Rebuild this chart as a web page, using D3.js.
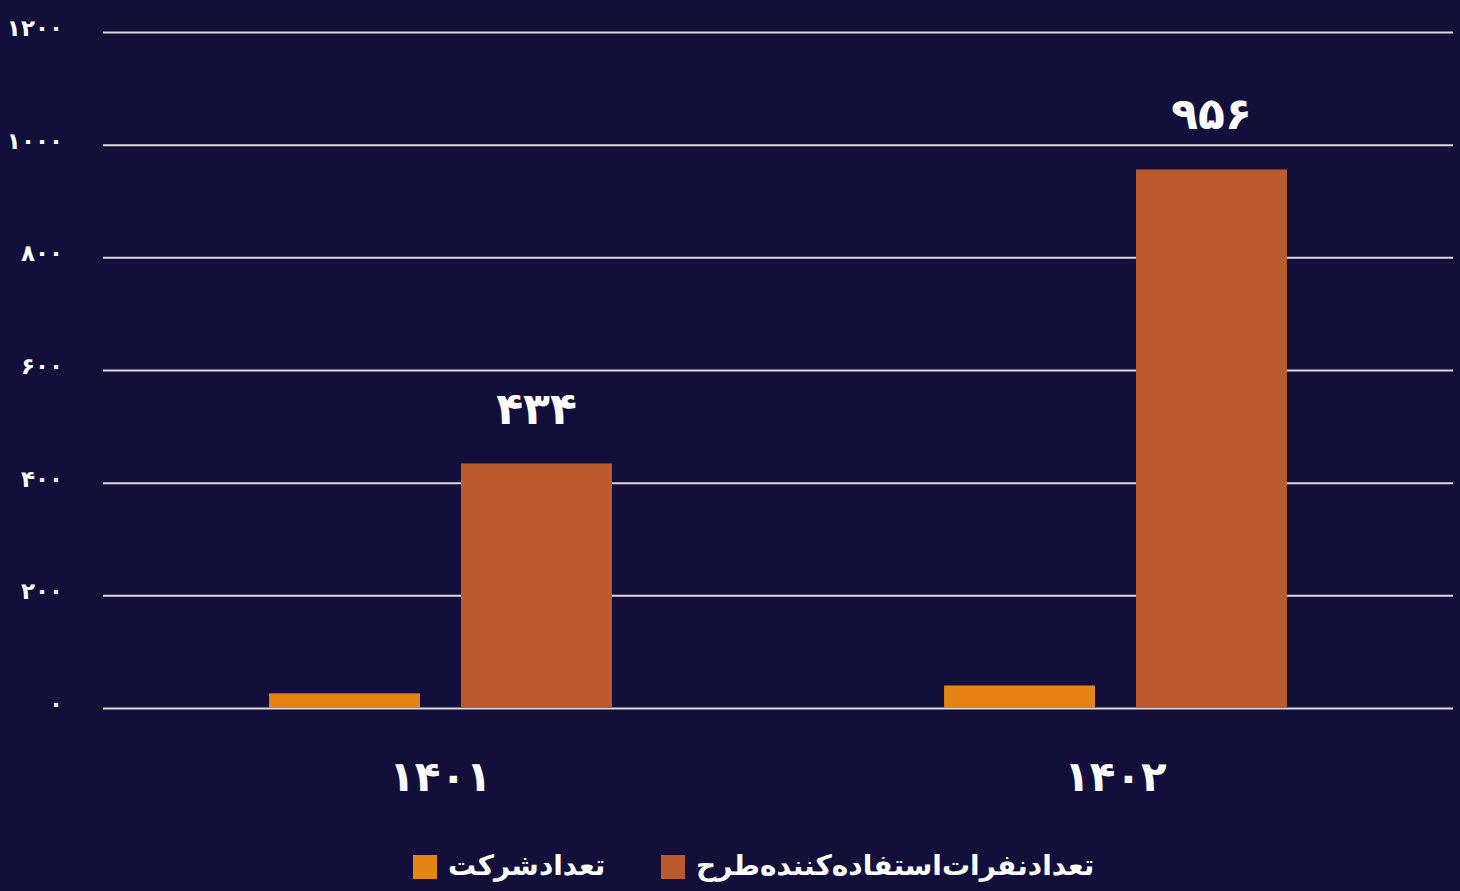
<!DOCTYPE html>
<html>
<head>
<meta charset="utf-8">
<script src="https://cdn.jsdelivr.net/npm/d3@7"></script>
<style>
  html, body { margin: 0; padding: 0; background: #12103a; }
  svg { display: block; }
  text { font-family: "DejaVu Sans", "Noto Sans", sans-serif; font-weight: bold; fill: #fff; }
</style>
</head>
<body>
<div id="chart"></div>
<script>
// data
const years = ['1401', '1402'];
const seriesNames = ['تعدادشرکت', 'تعدادنفرات‌استفاده‌کننده‌طرح'];
const companies = [26, 40];
const users = [434, 956];
const yTicks = [0, 200, 400, 600, 800, 1000, 1200];
const colors = ['#e58314', '#bd5a2d'];

// turn latin digits into persian ones
function fa(v) {
  return String(v).replace(/\d/g, d => '۰۱۲۳۴۵۶۷۸۹'[+d]);
}

let width = 1460, height = 891;
let plotLeft = 103, plotRight = 1453, plotTop = 32, plotBottom = 708;

let svg = d3.select('#chart').append('svg')
  .attr('width', width)
  .attr('height', height);

svg.append('rect')
  .attr('width', width).attr('height', height)
  .attr('fill', '#12103a');

let y = d3.scaleLinear().domain([0, 1200]).range([plotBottom, plotTop]);
let x0 = d3.scaleBand().domain(years).range([plotLeft, plotRight])
  .paddingInner(0.492).paddingOuter(0.246);
let x1 = d3.scaleBand().domain([0, 1]).range([0, x0.bandwidth()])
  .paddingInner(0.2135).paddingOuter(0);

// gridlines + y labels
let yAxis = svg.append('g')
  .attr('transform', 'translate(' + plotLeft + ',0)')
  .call(d3.axisLeft(y).tickValues(yTicks).tickSize(-(plotRight - plotLeft)).tickPadding(40).tickFormat(fa));
yAxis.select('.domain').remove();
yAxis.selectAll('.tick line').attr('stroke', '#d9d9d9').attr('stroke-width', 2);
yAxis.selectAll('.tick text')
  .attr('fill', '#fff')
  .attr('dy', '0.15em')
  .style('font-size', '23px')
  .style('font-family', '"DejaVu Sans", sans-serif')
  .style('font-weight', 'bold');

// bars
let rows = years.map((yr, i) => ({year: yr, vals: [companies[i], users[i]]}));
let groups = svg.selectAll('.grp')
  .data(rows)
  .enter().append('g')
  .attr('transform', d => 'translate(' + x0(d.year) + ',0)');

groups.selectAll('rect')
  .data(d => d.vals.map((v, k) => ({k: k, v: v})))
  .enter().append('rect')
  .attr('x', d => x1(d.k))
  .attr('y', d => y(d.v))
  .attr('width', x1.bandwidth())
  .attr('height', d => y(0) - y(d.v))
  .attr('fill', d => colors[d.k]);

// value labels on the big series only
groups.append('text')
  .attr('x', x1(1) + x1.bandwidth() / 2)
  .attr('y', d => y(d.vals[1]) - 40)
  .attr('text-anchor', 'middle')
  .style('font-size', '44px')
  .text(d => fa(d.vals[1]));

// category labels
svg.selectAll('.cat')
  .data(years)
  .enter().append('text')
  .attr('x', d => x0(d) + x0.bandwidth() / 2)
  .attr('y', 791)
  .attr('text-anchor', 'middle')
  .style('font-size', '42px')
  .text(d => fa(d));

// legend
let legendX = [413, 661];
let legend = svg.selectAll('.leg')
  .data(seriesNames)
  .enter().append('g')
  .attr('transform', (d, i) => 'translate(' + legendX[i] + ',855)');
legend.append('rect')
  .attr('width', 24).attr('height', 24)
  .attr('fill', (d, i) => colors[i]);
legend.append('text')
  .attr('x', 35)
  .attr('y', 20)
  .attr('text-anchor', 'start')
  .style('font-size', '28px')
  .text(d => d);
</script>
</body>
</html>
